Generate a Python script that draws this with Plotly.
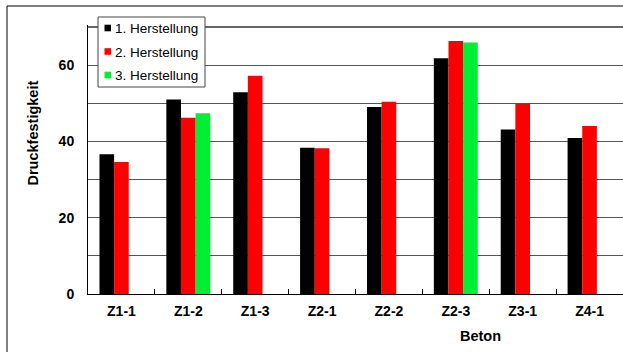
import plotly.graph_objects as go

# Compressive strength of each concrete mix, per production batch
beton = ["Z1-1", "Z1-2", "Z1-3", "Z2-1", "Z2-2", "Z2-3", "Z3-1", "Z4-1"]
herstellung_1 = [36.6, 51.0, 52.9, 38.3, 49.0, 61.8, 43.1, 40.9]
herstellung_2 = [34.6, 46.2, 57.2, 38.2, 50.4, 66.3, 49.9, 44.0]
herstellung_3 = [None, 47.4, None, None, None, 65.9, None, None]

series_names = ["1. Herstellung", "2. Herstellung", "3. Herstellung"]
series_colors = ["#000000", "#ff0000", "#00ee33"]

y_tickvals = [0, 10, 20, 30, 40, 50, 60, 70]
y_ticktext = ["0", "", "20", "", "40", "", "60", ""]
y_max = 70

W, H = 623, 352
ML, MR, MT, MB = 88, 0, 25, 58
PW, PH = W - ML - MR, H - MT - MB


def px_x(p):
    return (p - ML) / PW


def px_y(p):
    return (H - MB - p) / PH


FONT = "Liberation Sans, Arial, sans-serif"
GRID = "#555555"

fig = go.Figure()
for name, vals, col in zip(series_names, [herstellung_1, herstellung_2, herstellung_3], series_colors):
    fig.add_trace(go.Bar(x=beton, y=vals, name=name, marker_color=col,
                         marker_line_width=0, showlegend=False))

shapes = []
annotations = []

# outer chart frame
shapes.append(dict(type="rect", xref="paper", yref="paper",
                   x0=px_x(7), x1=px_x(W + 20), y0=px_y(H + 20), y1=px_y(6),
                   line=dict(color="#000000", width=1), fillcolor="rgba(0,0,0,0)",
                   layer="below"))

# upper boundary line of the plot area
shapes.append(dict(type="line", xref="paper", yref="paper", x0=0, x1=1,
                   y0=px_y(27), y1=px_y(27),
                   line=dict(color="#666666", width=2), layer="above"))

# legend box
shapes.append(dict(type="rect", xref="paper", yref="paper",
                   x0=px_x(98), x1=px_x(205), y0=px_y(87), y1=px_y(17),
                   line=dict(color="#444444", width=1), fillcolor="#ffffff",
                   layer="above"))
for i, (name, col) in enumerate(zip(series_names, series_colors)):
    cy = 28 + i * 23.5
    shapes.append(dict(type="rect", xref="paper", yref="paper",
                       x0=px_x(104.5), x1=px_x(111), y0=px_y(cy + 3.3), y1=px_y(cy - 3.3),
                       line=dict(width=0), fillcolor=col, layer="above"))
    annotations.append(dict(text=name, xref="paper", yref="paper",
                            x=px_x(113), y=px_y(cy + 0.5), xanchor="left", yanchor="middle",
                            showarrow=False, font=dict(family=FONT, size=13.5, color="#000000")))

# axis titles
annotations.append(dict(text="Druckfestigkeit", xref="paper", yref="paper",
                        x=px_x(32.5), y=px_y(133), textangle=-90,
                        xanchor="center", yanchor="middle", showarrow=False,
                        font=dict(family=FONT, size=14.5, color="#000000", weight="bold")))
annotations.append(dict(text="Beton", xref="paper", yref="paper",
                        x=px_x(480), y=px_y(336),
                        xanchor="center", yanchor="middle", showarrow=False,
                        font=dict(family=FONT, size=14.5, color="#000000", weight="bold")))

fig.update_layout(
    width=W, height=H,
    margin=dict(l=ML, r=MR, t=MT, b=MB, pad=0),
    paper_bgcolor="#ffffff", plot_bgcolor="#ffffff",
    barmode="group", bargap=0.343, bargroupgap=0,
    showlegend=False,
    shapes=shapes, annotations=annotations,
    xaxis=dict(type="category", showgrid=False, showline=True, linecolor="#000000", linewidth=1,
               ticks="inside", tickson="boundaries", ticklen=5, tickcolor="#000000",
               tickfont=dict(family=FONT, size=14, color="#000000", weight="bold"),
               ticklabelstandoff=4),
    yaxis=dict(range=[0, y_max + 0.5], tickmode="array", tickvals=y_tickvals, ticktext=y_ticktext,
               showgrid=True, gridcolor=GRID, gridwidth=1.3,
               showline=True, linecolor="#000000", linewidth=1, zeroline=False,
               ticks="", ticklabelstandoff=10,
               tickfont=dict(family=FONT, size=14, color="#000000", weight="bold")),
)

fig.write_html("out.html")
